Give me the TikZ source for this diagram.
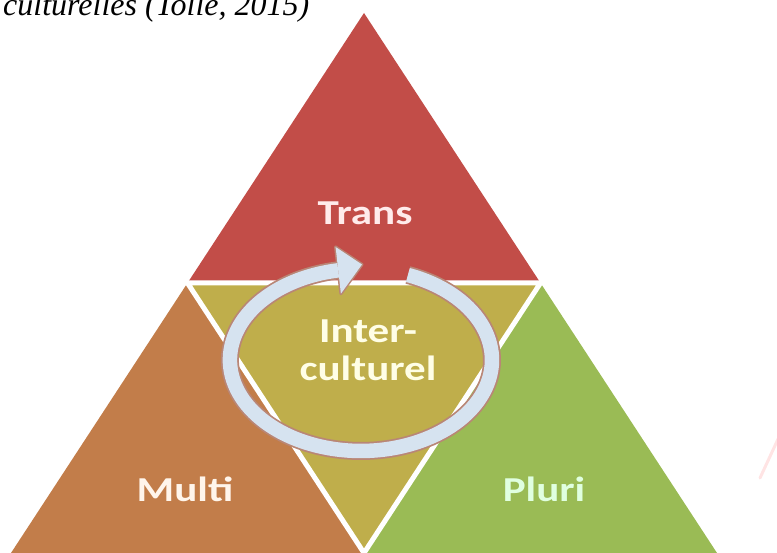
\documentclass[tikz,border=0pt]{standalone}
\usepackage{fontspec}
\setmainfont{Liberation Serif}
\newfontfamily\lblfont{Carlito}
\begin{document}
\begin{tikzpicture}[x=1pt,y=1pt,
  lbl/.style={font=\lblfont\bfseries\fontsize{35}{38}\selectfont, xscale=1.23, align=center, inner sep=0pt},
  sep/.style={white, line width=5, line join=miter}]
\definecolor{cred}{HTML}{C24D48}
\definecolor{cbrown}{HTML}{C27D4A}
\definecolor{colive}{HTML}{BFAE4B}
\definecolor{cgreen}{HTML}{9ABB55}
\definecolor{cband}{HTML}{D6E3F0}
\definecolor{cbandout}{HTML}{B98676}
\useasboundingbox (0,0) rectangle (777,553);
\clip (0,0) rectangle (777,553);
% caption (cut at top)
\node[anchor=base west, inner sep=0pt, font=\itshape\fontsize{32}{32}\selectfont] (cap) at (3,537) {culturelles (Tolle, 2015)};
% triangle geometry
\coordinate (A) at (364,540);
\coordinate (BL) at (11,0);
\coordinate (BR) at (717,0);
\coordinate (M1) at (187.5,270);
\coordinate (M2) at (540.5,270);
\coordinate (M3) at (364,0);
\fill[cred] (A) -- (M1) -- (M2) -- cycle;
\fill[cbrown] (M1) -- (BL) -- (M3) -- cycle;
\fill[cgreen] (M2) -- (M3) -- (BR) -- cycle;
\fill[colive] (M1) -- (M2) -- (M3) -- cycle;
\draw[sep] (M1) -- (M2) -- (M3) -- cycle;
% circular arrow
\coordinate (C) at (361,193);
\coordinate (T0) at (407.9,278.0);
\coordinate (H1) at (335.6,306.0);
\coordinate (H2) at (340.9,259.3);
\coordinate (H3) at (362.0,288.5);
\draw[cbandout, line width=18] (T0) arc[start angle=69, end angle=-260, x radius=131, y radius=91];
\filldraw[fill=cbandout, draw=cbandout, line width=3, line join=round] (H1) -- (H3) -- (H2) -- cycle;
\draw[cband, line width=14.5] (T0) arc[start angle=69, end angle=-260, x radius=131, y radius=91];
\fill[cband] (H1) -- (H3) -- (H2) -- cycle;
% labels
\node[lbl, text=white!92!red] (trans) at (365,340) {Trans};
\node[lbl, text=white!90!yellow] (inter) at (368,203) {Inter-\\culturel};
\node[lbl, text=white!92!orange] (multi) at (185,64) {Multi};
\node[lbl, text=white!88!green] (pluri) at (544,64) {Pluri};
% faint pink stroke at right edge
\draw[pink!70!white, line width=3, opacity=0.6, line cap=round] (779,116) -- (760,75);
\end{tikzpicture}
\end{document}
